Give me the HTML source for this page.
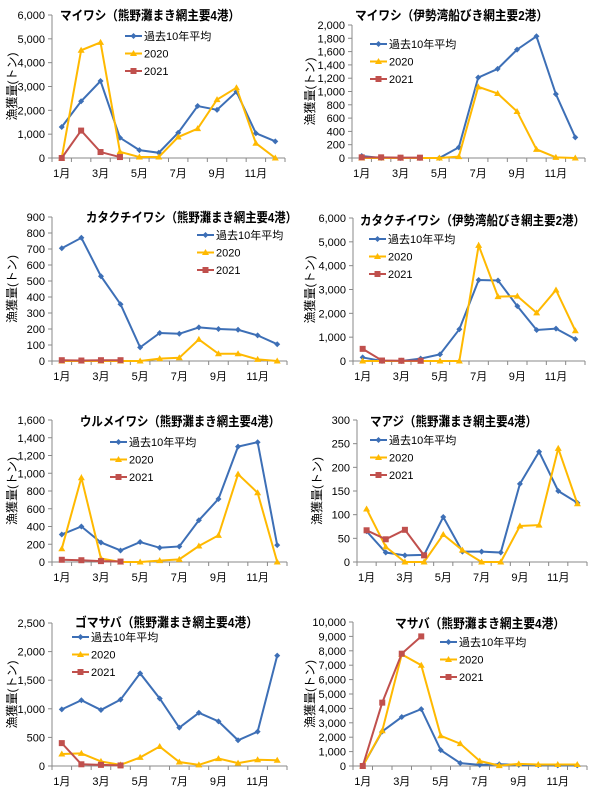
<!DOCTYPE html>
<html><head><meta charset="utf-8"><style>
body{margin:0;background:#fff;width:600px;height:787px;overflow:hidden}
svg{display:block}
text{font-family:"Liberation Sans","Noto Sans CJK JP",sans-serif}
</style></head><body>
<svg id="s" width="600" height="787" xmlns="http://www.w3.org/2000/svg"></svg>
<script>
const B="#3d6fb6",O="#FFB900",R="#C0504D";
const charts=[
{x0:52,x1:285,y0:15,y1:158,max:6000,step:1000,title:"マイワシ（熊野灘まき網主要4港）",tw:180,tx:60,ty:20,lx:125,ly:36,yl:12,
a:[1300,2380,3230,850,330,220,1060,2180,2020,2780,1040,700],b:[0,4520,4850,260,40,40,880,1230,2450,2950,620,0],c:[0,1150,250,40]},
{x0:352,x1:585,y0:25,y1:158,max:2000,step:200,title:"マイワシ（伊勢湾船びき網主要2港）",tw:193,tx:355,ty:20,lx:370,ly:44,yl:310,
a:[30,0,0,0,0,160,1210,1340,1630,1830,960,310],b:[0,0,0,0,0,20,1070,970,700,130,10,0],c:[10,10,5,5]},
{x0:52,x1:287,y0:217,y1:361,max:900,step:100,title:"カタクチイワシ（熊野灘まき網主要4港）",tw:211,tx:86,ty:222,lx:197,ly:235,yl:12,
a:[705,770,530,355,85,175,170,210,200,195,160,105],b:[0,0,0,0,0,15,20,135,45,45,10,0],c:[5,3,5,5]},
{x0:353,x1:585,y0:218,y1:361,max:6000,step:1000,title:"カタクチイワシ（伊勢湾船びき網主要2港）",tw:225,tx:360,ty:225,lx:369,ly:239,yl:310,
a:[150,0,0,100,280,1330,3400,3380,2300,1300,1360,920],b:[0,0,0,0,0,0,4850,2700,2720,2020,2980,1270],c:[510,20,10,10]},
{x0:52,x1:287,y0:420,y1:562,max:1600,step:200,title:"ウルメイワシ（熊野灘まき網主要4港）",tw:200,tx:80,ty:426,lx:110,ly:442,yl:12,
a:[310,400,220,130,225,160,175,470,710,1300,1350,190],b:[150,950,40,0,0,15,30,180,300,990,780,0],c:[25,20,10,5]},
{x0:357,x1:587,y0:420,y1:562,max:300,step:50,title:"マアジ（熊野灘まき網主要4港）",tw:167,tx:370,ty:426,lx:370,ly:440,yl:317,
a:[65,20,14,15,95,22,22,20,165,233,150,125],b:[112,32,0,0,58,25,0,0,76,78,240,123],c:[67,48,68,14]},
{x0:52,x1:287,y0:623,y1:766,max:2500,step:500,title:"ゴマサバ（熊野灘まき網主要4港）",tw:183,tx:75,ty:627,lx:72,ly:637,yl:12,
a:[990,1150,980,1160,1620,1180,670,930,780,450,600,1930],b:[210,220,80,20,150,340,70,20,130,50,110,100],c:[400,30,20,10]},
{x0:353,x1:587,y0:622,y1:766,max:10000,step:1000,title:"マサバ（熊野灘まき網主要4港）",tw:170,tx:395,ty:628,lx:440,ly:642,yl:310,
a:[0,2400,3400,3950,1100,200,80,120,80,60,40,40],b:[0,2450,7750,7000,2100,1550,350,30,150,100,100,100],c:[0,4400,7800,9000]}
];
let h="";
function fmt(v){return v.toLocaleString("en-US")}
function mk(t,x,y,col){
 if(t=="d")return `<polygon points="${x},${y-3} ${x+3},${y} ${x},${y+3} ${x-3},${y}" fill="${col}"/>`;
 if(t=="t")return `<polygon points="${x},${y-3.5} ${x+3.5},${y+2.5} ${x-3.5},${y+2.5}" fill="${col}"/>`;
 return `<rect x="${x-3}" y="${y-3}" width="6" height="6" fill="${col}"/>`;
}
for(const c of charts){
 const w=(c.x1-c.x0)/12,X=i=>c.x0+w*(i+0.5),Y=v=>c.y1-(c.y1-c.y0)*v/c.max;
 h+=`<line x1="${c.x0}" y1="${c.y0}" x2="${c.x0}" y2="${c.y1}" stroke="#888"/><line x1="${c.x0}" y1="${c.y1}" x2="${c.x1}" y2="${c.y1}" stroke="#888"/>`;
 for(let v=0;v<=c.max;v+=c.step){const y=Y(v);h+=`<line x1="${c.x0-4}" y1="${y}" x2="${c.x0}" y2="${y}" stroke="#888"/><text x="${c.x0-7}" y="${y+4}" font-size="11" text-anchor="end">${fmt(v)}</text>`;}
 for(let i=0;i<=12;i++){const x=c.x0+w*i;h+=`<line x1="${x}" y1="${c.y1}" x2="${x}" y2="${c.y1+4}" stroke="#888"/>`;}
 for(let i=0;i<12;i+=2)h+=`<text x="${c.x0+w*i+w/2}" y="${c.y1+19}" font-size="11" text-anchor="middle">${i+1}月</text>`;
 const ym=(c.y0+c.y1)/2;
 h+=`<text x="${c.yl}" y="${ym}" font-size="12" text-anchor="middle" transform="rotate(-90 ${c.yl} ${ym})" dy="4">漁獲量(トン)</text>`;
 h+=`<text x="${c.tx}" y="${c.ty}" font-size="13" font-weight="bold" textLength="${c.tw}" lengthAdjust="spacingAndGlyphs">${c.title}</text>`;
 [[c.a,B,"d"],[c.b,O,"t"],[c.c,R,"s"]].forEach(([d,col,t])=>{
  h+=`<polyline fill="none" stroke="${col}" stroke-width="2" points="${d.map((v,i)=>X(i)+","+Y(v)).join(" ")}"/>`;
  d.forEach((v,i)=>h+=mk(t,X(i),Y(v),col));
 });
 [["過去10年平均",B,"d"],["2020",O,"t"],["2021",R,"s"]].forEach(([s,col,t],k)=>{
  const y=c.ly+k*17.5;
  h+=`<line x1="${c.lx}" y1="${y}" x2="${c.lx+17}" y2="${y}" stroke="${col}" stroke-width="2"/>`+mk(t,c.lx+8.5,y,col)+`<text x="${c.lx+19}" y="${y+4}" font-size="11">${s}</text>`;
 });
}
document.getElementById("s").innerHTML=h;
</script>
</body></html>
